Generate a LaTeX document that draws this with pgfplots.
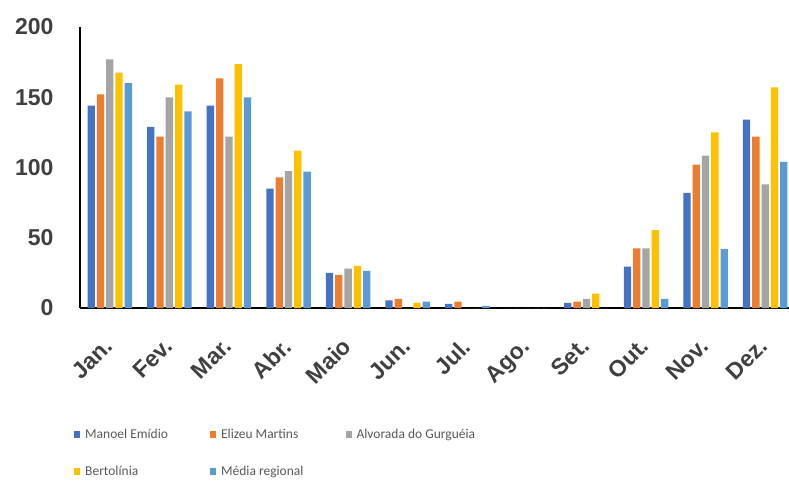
\documentclass[border=0pt]{standalone}
\usepackage{fontspec}
\setmainfont{Carlito}
\newfontfamily\ticksans{Liberation Sans}
\usepackage{pgfplots}
\pgfplotsset{compat=1.18}

\definecolor{cManoel}{HTML}{4472C4}
\definecolor{cElizeu}{HTML}{ED7D31}
\definecolor{cAlvorada}{HTML}{A5A5A5}
\definecolor{cBertolinia}{HTML}{FFC000}
\definecolor{cMedia}{HTML}{5B9BD5}
\definecolor{tickgray}{HTML}{404040}
\definecolor{legendgray}{HTML}{595959}

% Monthly rainfall (mm) per municipality; x = 0 (Jan.) ... 11 (Dez.)
\pgfplotstableread{
x manoel elizeu alvorada bertolinia media
0  144   152   177   167.5 160
1  129   122   150   159   140
2  144   163.5 122   173.5 150
3  85    93    97.5  112   97
4  25    23.5  28    30    26.5
5  5.5   6.5   0     3.7   4.6
6  3     4.6   0     0     1.5
7  0     0     0     0     0
8  3.7   4.6   6.5   10.3  0
9  29.5  42.5  42.5  55.5  6.5
10 82    102   108.5 125   42
11 134   122   88    157   104
}\rain

\begin{document}
\begin{tikzpicture}
\path[use as bounding box] (-80pt,-172pt) rectangle (709pt,308pt);
\begin{axis}[
  scale only axis,
  width=709pt, height=281pt,
  xmin=-0.5, xmax=11.4,
  ymin=0, ymax=200,
  ybar=2pt, bar width=7.3pt,
  axis x line=bottom, axis y line=left,
  axis line style={-, line width=2pt, black},
  xtick={0,...,11},
  xticklabels={Jan.,Fev.,Mar.,Abr.,Maio,Jun.,Jul.,Ago.,Set.,Out.,Nov.,Dez.},
  ytick={0,50,100,150,200},
  major tick length=0pt,
  /pgf/number format/assume math mode=true,
  tick label style={font=\ticksans\bfseries\fontsize{23}{24}\selectfont, text=tickgray},
  yticklabel style={anchor=east},
  yticklabel shift=23pt,
  xticklabel style={xshift=-7pt, rotate=45, anchor=north east, inner sep=1pt},
  xticklabel shift=27pt,
  legend columns=3,
  legend cell align=left,
  legend style={at={(0,0)}, anchor=north west, xshift=-9pt, yshift=-116pt,
    draw=none, fill=none, text=legendgray,
    font=\fontsize{13.5}{16}\selectfont,
    row sep=20pt,
    nodes={inner sep=3pt},
    /tikz/every odd column/.append style={column sep=2pt},
    /tikz/every even column/.append style={column sep=39pt}},
  legend image code/.code={\fill[#1] (0pt,-3.5pt) rectangle (6pt,3.5pt);},
  every axis plot/.append style={draw=none},
]
\addplot[fill=cManoel] table[x=x,y=manoel] {\rain};
\addplot[fill=cElizeu] table[x=x,y=elizeu] {\rain};
\addplot[fill=cAlvorada] table[x=x,y=alvorada] {\rain};
\addplot[fill=cBertolinia] table[x=x,y=bertolinia] {\rain};
\addplot[fill=cMedia] table[x=x,y=media] {\rain};
\legend{Manoel Emídio, Elizeu Martins, Alvorada do Gurguéia, Bertolínia, Média regional}
\end{axis}
\end{tikzpicture}
\end{document}
